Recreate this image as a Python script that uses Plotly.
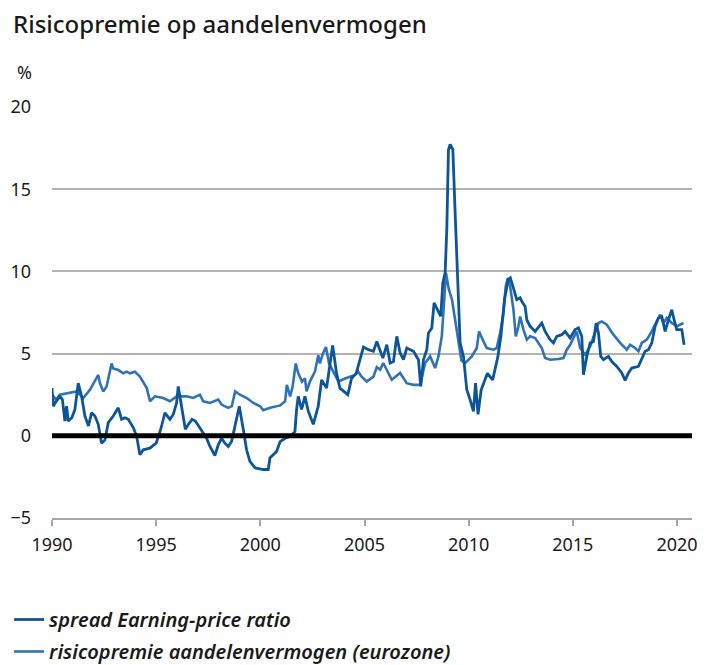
import plotly.graph_objects as go

# spread earning-price ratio (decimal years, %)
spread_years = [
    1990.00, 1990.06, 1990.20, 1990.38, 1990.50, 1990.62, 1990.70, 1990.78, 1990.95, 1991.10,
    1991.26, 1991.42, 1991.58, 1991.75, 1991.90, 1992.06, 1992.22, 1992.38, 1992.54, 1992.70,
    1992.94, 1993.18, 1993.34, 1993.50, 1993.66, 1993.90, 1994.06, 1994.22, 1994.38, 1994.70,
    1995.00, 1995.22, 1995.42, 1995.66, 1995.82, 1995.98, 1996.06, 1996.22, 1996.40, 1996.55,
    1996.72, 1996.88, 1997.04, 1997.26, 1997.42, 1997.58, 1997.82, 1997.98, 1998.14, 1998.30,
    1998.46, 1998.62, 1998.79, 1998.99, 1999.18, 1999.34, 1999.50, 1999.75, 2000.14, 2000.38,
    2000.46, 2000.62, 2000.78, 2000.95, 2001.19, 2001.43, 2001.66, 2001.74, 2001.82, 2001.98,
    2002.14, 2002.30, 2002.54, 2002.78, 2002.94, 2003.18, 2003.34, 2003.47, 2003.66, 2003.82,
    2004.20, 2004.38, 2004.60, 2004.79, 2004.95, 2005.19, 2005.43, 2005.59, 2005.75, 2005.88,
    2006.07, 2006.23, 2006.39, 2006.55, 2006.71, 2006.87, 2007.03, 2007.35, 2007.59, 2007.70,
    2007.83, 2007.99, 2008.07, 2008.23, 2008.34, 2008.55, 2008.66, 2008.76, 2008.87, 2008.95,
    2009.03, 2009.11, 2009.24, 2009.35, 2009.46, 2009.59, 2009.75, 2009.91, 2010.07, 2010.23,
    2010.33, 2010.45, 2010.60, 2010.90, 2011.15, 2011.40, 2011.55, 2011.72, 2011.90, 2012.00,
    2012.12, 2012.31, 2012.47, 2012.55, 2012.71, 2012.79, 2012.95, 2013.19, 2013.51, 2013.67,
    2013.91, 2014.07, 2014.23, 2014.47, 2014.63, 2014.87, 2015.11, 2015.27, 2015.43, 2015.51,
    2015.67, 2015.83, 2015.99, 2016.12, 2016.23, 2016.34, 2016.47, 2016.71, 2016.87, 2017.11,
    2017.35, 2017.51, 2017.67, 2017.83, 2018.15, 2018.31, 2018.47, 2018.63, 2018.79, 2018.95,
    2019.11, 2019.27, 2019.43, 2019.59, 2019.75, 2019.86, 2019.99, 2020.23, 2020.34,
]
spread_values = [
    2.9, 1.8, 2.1, 2.4, 2.2, 0.9, 1.8, 0.9, 1.1, 1.6,
    3.2, 2.4, 1.2, 0.6, 1.4, 1.2, 0.7, -0.45, -0.25, 0.8,
    1.2, 1.7, 1.0, 1.1, 1.0, 0.5, 0.0, -1.15, -0.85, -0.75,
    -0.45, 0.4, 1.4, 1.0, 1.3, 2.0, 3.0, 1.8, 0.4, 0.7,
    1.0, 0.9, 0.6, 0.15, -0.15, -0.65, -1.2, -0.55, -0.15, -0.45,
    -0.65, -0.35, 0.6, 1.8, 0.4, -0.85, -1.55, -1.95, -2.05, -2.05,
    -1.35, -1.15, -0.95, -0.35, -0.15, -0.05, 0.25, 1.6, 2.4, 1.6,
    2.4, 1.5, 0.7, 1.8, 3.4, 2.9, 4.4, 5.5, 3.8, 2.9,
    2.5, 3.5, 3.8, 4.6, 5.4, 5.24, 5.14, 5.74, 5.24, 4.73,
    5.54, 4.43, 4.52, 6.05, 5.04, 4.63, 5.34, 5.14, 4.63, 3.0,
    4.63, 5.24, 6.26, 6.56, 8.08, 7.57, 7.27, 9.3, 9.91, 12.55,
    17.4, 17.72, 17.42, 13.56, 9.5, 5.65, 4.83, 2.8, 2.19, 1.48,
    3.2, 1.3, 2.8, 3.8, 3.4, 4.8, 6.1, 8.3, 9.5, 9.6,
    9.1, 8.28, 8.4, 8.18, 7.87, 7.06, 6.66, 6.35, 6.86, 6.35,
    5.85, 5.65, 6.05, 6.15, 6.35, 5.95, 6.46, 6.56, 6.05, 3.71,
    4.83, 5.65, 5.74, 6.86, 6.26, 4.83, 4.63, 4.83, 4.52, 4.22,
    3.82, 3.37, 3.82, 4.12, 4.22, 4.63, 5.14, 5.24, 5.65, 6.66,
    7.17, 7.26, 6.35, 7.06, 7.67, 7.06, 6.46, 6.46, 5.54,
]

# risicopremie aandelenvermogen eurozone
premium_years = [
    1990.00, 1990.20, 1990.38, 1990.86, 1991.18, 1991.50, 1991.82, 1992.22, 1992.30, 1992.46,
    1992.62, 1992.86, 1992.94, 1993.18, 1993.42, 1993.58, 1993.74, 1993.98, 1994.22, 1994.55,
    1994.70, 1994.94, 1995.34, 1995.66, 1995.99, 1996.47, 1996.78, 1997.10, 1997.26, 1997.58,
    1997.98, 1998.14, 1998.46, 1998.63, 1998.79, 1999.02, 1999.35, 1999.66, 1999.99, 2000.14,
    2000.47, 2000.95, 2001.19, 2001.27, 2001.43, 2001.55, 2001.70, 2001.82, 2002.00, 2002.14,
    2002.22, 2002.38, 2002.62, 2002.78, 2002.86, 2003.00, 2003.15, 2003.30, 2003.75, 2004.10,
    2004.55, 2004.70, 2004.86, 2005.11, 2005.43, 2005.59, 2005.75, 2005.90, 2006.07, 2006.31,
    2006.71, 2007.03, 2007.35, 2007.67, 2007.91, 2008.15, 2008.39, 2008.55, 2008.71, 2008.91,
    2009.05, 2009.20, 2009.35, 2009.50, 2009.65, 2009.83, 2010.15, 2010.39, 2010.50, 2010.71,
    2010.87, 2011.19, 2011.35, 2011.51, 2011.67, 2011.78, 2011.88, 2011.99, 2012.15, 2012.26,
    2012.39, 2012.47, 2012.63, 2012.79, 2012.95, 2013.19, 2013.35, 2013.51, 2013.67, 2013.91,
    2014.31, 2014.55, 2014.71, 2014.87, 2015.03, 2015.19, 2015.35, 2015.59, 2015.83, 2016.07,
    2016.23, 2016.39, 2016.63, 2016.95, 2017.27, 2017.59, 2017.75, 2017.99, 2018.15, 2018.31,
    2018.55, 2018.79, 2019.03, 2019.19, 2019.35, 2019.51, 2019.75, 2019.99, 2020.31,
]
premium_values = [
    2.5, 2.2, 2.5, 2.6, 2.7, 2.3, 2.8, 3.7, 3.2, 2.7,
    3.0, 4.4, 4.1, 4.0, 3.8, 3.9, 3.8, 3.9, 3.6, 2.9,
    2.1, 2.4, 2.3, 2.1, 2.4, 2.4, 2.3, 2.5, 2.1, 2.0,
    2.2, 1.9, 1.7, 1.8, 2.7, 2.5, 2.3, 2.0, 1.8, 1.55,
    1.7, 1.85, 2.1, 3.1, 2.4, 3.0, 4.4, 3.8, 3.3, 3.5,
    2.7, 3.3, 3.9, 4.9, 4.4, 5.0, 5.4, 4.4, 3.3, 3.5,
    3.7, 3.9, 3.6, 3.3, 3.6, 4.18, 4.02, 4.43, 4.02, 3.41,
    3.82, 3.2, 3.1, 3.1, 4.43, 4.83, 4.12, 4.83, 6.05, 9.9,
    8.9, 8.28, 7.06, 5.9, 4.6, 4.43, 4.83, 5.34, 6.35, 5.74,
    5.34, 5.24, 5.34, 6.26, 7.47, 9.1, 9.6, 9.1, 7.67, 6.05,
    6.66, 7.26, 6.46, 5.85, 6.05, 5.95, 5.65, 5.34, 4.73, 4.63,
    4.67, 4.73, 5.24, 5.54, 5.95, 6.35, 5.34, 4.93, 5.44, 6.26,
    6.86, 6.96, 6.76, 6.15, 5.65, 5.24, 5.54, 5.34, 5.14, 5.65,
    5.85, 6.35, 6.96, 7.37, 6.86, 7.17, 6.86, 6.66, 6.86,
]

y_ticks = [-5, 0, 5, 10, 15, 20]
x_ticks = [1990, 1995, 2000, 2005, 2010, 2015, 2020]

font_family = "Noto Sans, Open Sans, sans-serif"

fig = go.Figure()

fig.add_trace(
    go.Scatter(
        x=premium_years,
        y=premium_values,
        mode="lines",
        line={"color": "#2f72b5", "width": 2.6},
        name="risicopremie aandelenvermogen (eurozone)",
        legendrank=2,
        legendgroup="b",
    )
)
fig.add_trace(
    go.Scatter(
        x=spread_years,
        y=spread_values,
        mode="lines",
        line={"color": "#0d5599", "width": 2.8},
        name="spread Earning-price ratio",
        legendrank=1,
        legendgroup="a",
    )
)

# thick zero line
fig.add_hline(y=0, line={"color": "black", "width": 5}, layer="above")

# the page body adds an 8px margin, so the figure is 8px smaller than the window
fig.update_layout(
    width=697,
    height=657,
    margin={"l": 44, "r": 13, "t": 99, "b": 147, "autoexpand": False},
    plot_bgcolor="white",
    paper_bgcolor="white",
    font={"family": font_family, "color": "#1a1a1a"},
    title={
        "text": "Risicopremie op aandelenvermogen",
        "x": 0.0072,
        "xanchor": "left",
        "y": 0.974,
        "yanchor": "middle",
        "font": {"size": 24, "color": "#1a1a1a", "weight": 500},
    },
    xaxis={
        "range": [1990, 2020.72],
        "tickvals": x_ticks,
        "ticktext": [str(t) for t in x_ticks],
        "showgrid": False,
        "zeroline": False,
        "showline": True,
        "linecolor": "#a6a6a6",
        "linewidth": 1.5,
        "ticks": "outside",
        "ticklen": 6,
        "tickcolor": "#a6a6a6",
        "tickwidth": 1.5,
        "tickfont": {"size": 18, "color": "#1a1a1a"},
        "ticklabelstandoff": 4,
        "automargin": False,
    },
    yaxis={
        "range": [-5, 20],
        "tickvals": y_ticks,
        "showgrid": True,
        "gridcolor": "#b3b3b3",
        "gridwidth": 1.5,
        "zeroline": False,
        "showline": False,
        "ticks": "",
        "tickfont": {"size": 18, "color": "#1a1a1a"},
        "ticklabelstandoff": 20,
        "automargin": False,
    },
    showlegend=True,
    legend={
        "x": -0.067,
        "xanchor": "left",
        "y": -0.1995,
        "yanchor": "top",
        "orientation": "v",
        "tracegroupgap": 3,
        "font": {"size": 20, "style": "italic", "weight": 600, "color": "#1a1a1a"},
        "itemwidth": 30,
    },
    annotations=[
        {
            "text": "%",
            "xref": "paper",
            "yref": "paper",
            "x": -0.058,
            "y": 1.086,
            "xanchor": "left",
            "yanchor": "middle",
            "showarrow": False,
            "font": {"size": 18, "color": "#1a1a1a"},
        }
    ],
)

fig.write_html("out.html")
